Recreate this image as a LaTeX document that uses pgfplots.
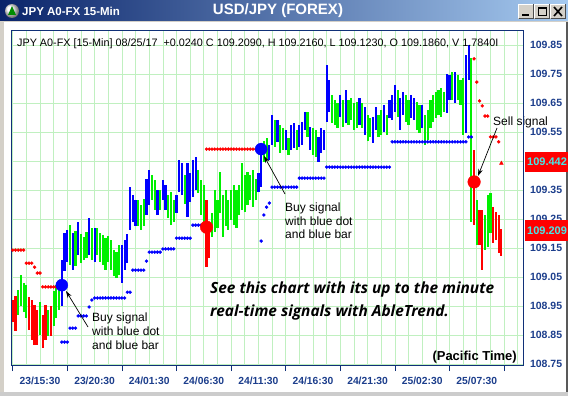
\documentclass[border=0pt]{standalone}
\usepackage{fontspec}
\setmainfont{Liberation Sans}
\newfontfamily\opensans{Open Sans}
\usepackage{pgfplots}
\pgfplotsset{compat=1.18}
\usepackage{pgfplotstable}
\usetikzlibrary{arrows.meta}
\definecolor{barred}{RGB}{255,0,0}
\definecolor{bargreen}{RGB}{0,240,0}
\definecolor{barblue}{RGB}{0,0,255}
\definecolor{gridcol}{RGB}{192,240,192}
\definecolor{framecol}{RGB}{16,48,120}
\definecolor{lblblue}{RGB}{28,62,140}
\definecolor{winGray}{RGB}{212,208,200}
\definecolor{tbDark}{RGB}{10,36,106}
\definecolor{tbLight}{RGB}{166,202,240}
\definecolor{boxcyan}{RGB}{70,232,232}

\pgfplotstableread{
x lo hi
-10 108.895 108.971
-9 108.867 108.988
-4 108.867 108.981
-3 108.833 108.971
-2 108.816 108.953
-1 108.816 108.936
1 108.805 108.919
2 108.833 108.953
4 108.850 108.953
61 109.084 109.316
62 109.116 109.219
159 109.229 109.488
161 109.160 109.281
162 109.074 109.281
166 109.167 109.291
167 109.178 109.274
168 109.133 109.264
169 109.123 109.216
}\redbars

\pgfplotstableread{
x lo hi
-8 108.919 109.005
-7 108.953 109.057
-6 108.929 109.029
-5 108.909 109.022
0 108.850 108.964
3 108.847 108.936
5 108.884 109.005
6 108.909 109.022
7 108.936 109.040
11 109.091 109.229
13 109.091 109.212
15 109.102 109.202
16 109.109 109.188
17 109.116 109.205
19 109.109 109.219
21 109.126 109.219
22 109.102 109.205
23 109.091 109.195
24 109.074 109.184
25 109.102 109.191
26 109.074 109.178
27 109.053 109.143
28 109.047 109.136
29 109.057 109.160
36 109.229 109.316
37 109.212 109.298
38 109.229 109.322
41 109.316 109.402
42 109.281 109.384
44 109.281 109.350
47 109.253 109.333
48 109.229 109.343
49 109.240 109.316
53 109.305 109.402
58 109.340 109.419
59 109.264 109.384
60 109.240 109.367
63 109.188 109.271
64 109.205 109.350
65 109.219 109.316
66 109.271 109.412
67 109.188 109.333
68 109.229 109.350
69 109.212 109.316
70 109.247 109.350
71 109.229 109.367
72 109.219 109.350
73 109.264 109.367
74 109.281 109.443
75 109.274 109.402
76 109.298 109.412
77 109.316 109.402
78 109.291 109.419
79 109.316 109.391
82 109.447 109.522
83 109.453 109.529
86 109.498 109.591
88 109.478 109.574
89 109.488 109.564
91 109.471 109.529
94 109.488 109.557
98 109.533 109.619
100 109.471 109.564
101 109.464 109.557
107 109.581 109.678
108 109.574 109.660
109 109.564 109.650
111 109.567 109.660
113 109.574 109.660
114 109.591 109.667
115 109.557 109.650
116 109.564 109.653
118 109.564 109.650
120 109.522 109.609
121 109.533 109.598
124 109.533 109.609
125 109.540 109.626
127 109.540 109.609
131 109.602 109.695
134 109.584 109.678
135 109.574 109.660
138 109.557 109.653
139 109.547 109.643
141 109.505 109.609
142 109.522 109.626
143 109.564 109.660
144 109.584 109.678
145 109.598 109.688
146 109.609 109.695
147 109.602 109.702
148 109.619 109.688
151 109.660 109.757
153 109.660 109.747
154 109.643 109.729
155 109.540 109.736
158 109.240 109.805
160 109.160 109.316
163 109.143 109.264
164 109.153 109.333
165 109.205 109.340
}\greenbars

\pgfplotstableread{
x lo hi
8 108.953 109.109
9 109.074 109.205
10 109.102 109.212
12 109.074 109.202
14 109.126 109.240
18 109.126 109.253
20 109.102 109.219
30 109.029 109.160
31 109.074 109.178
32 109.102 109.202
33 109.212 109.360
34 109.240 109.333
35 109.229 109.316
39 109.264 109.391
40 109.298 109.419
43 109.264 109.350
45 109.316 109.384
46 109.281 109.367
50 109.271 109.333
51 109.343 109.453
52 109.333 109.443
54 109.257 109.443
55 109.309 109.409
56 109.326 109.453
57 109.350 109.464
80 109.343 109.409
81 109.360 109.512
84 109.453 109.505
85 109.505 109.609
87 109.516 109.591
90 109.488 109.557
92 109.488 109.574
93 109.495 109.581
95 109.498 109.574
96 109.505 109.584
97 109.557 109.619
99 109.488 109.567
102 109.447 109.533
103 109.478 109.564
104 109.488 109.557
105 109.584 109.781
106 109.619 109.729
110 109.602 109.678
112 109.581 109.695
117 109.574 109.667
119 109.540 109.636
122 109.512 109.602
123 109.557 109.636
126 109.550 109.643
128 109.598 109.660
129 109.591 109.678
130 109.619 109.712
132 109.557 109.667
133 109.609 109.688
136 109.598 109.678
137 109.591 109.667
140 109.564 109.643
149 109.616 109.753
150 109.660 109.747
152 109.650 109.757
156 109.547 109.816
157 109.729 109.850
}\bluebars

\pgfplotstableread{
x y
-10 109.143
-9 109.143
-8 109.143
-7 109.143
-6 109.143
-5 109.098
-4 109.098
-3 109.098
-2 109.084
-1 109.064
0 109.064
1 109.016
2 109.016
3 109.016
4 109.016
5 109.016
6 109.016
7 109.016
61 109.491
62 109.491
63 109.491
64 109.491
65 109.491
66 109.491
67 109.491
68 109.491
69 109.491
70 109.491
71 109.491
72 109.491
73 109.491
74 109.491
75 109.491
76 109.491
77 109.491
78 109.491
79 109.491
80 109.491
159 109.802
160 109.722
161 109.657
162 109.640
163 109.605
164 109.605
165 109.533
166 109.533
167 109.533
168 109.516
}\reddots

\pgfplotstableread{
x y
8 108.826
9 108.826
10 108.826
11 108.874
12 108.874
13 108.874
14 108.916
15 108.916
16 108.916
17 108.916
18 108.947
19 108.971
20 108.978
21 108.978
22 108.978
23 108.978
24 108.978
25 108.978
26 108.978
27 108.978
28 108.978
29 108.978
30 108.978
31 108.978
32 108.998
33 108.998
34 109.074
35 109.074
36 109.074
37 109.074
38 109.074
39 109.105
40 109.136
41 109.136
42 109.136
43 109.136
44 109.136
45 109.147
46 109.147
47 109.147
48 109.147
49 109.147
50 109.184
51 109.184
52 109.184
53 109.184
54 109.184
55 109.184
56 109.229
57 109.229
58 109.229
59 109.229
81 109.174
82 109.264
83 109.291
84 109.305
85 109.360
86 109.360
87 109.360
88 109.360
89 109.360
90 109.360
91 109.360
92 109.360
93 109.360
94 109.360
95 109.391
96 109.391
97 109.391
98 109.391
99 109.391
100 109.391
101 109.391
102 109.391
103 109.391
104 109.391
105 109.429
106 109.429
107 109.429
108 109.429
109 109.429
110 109.429
111 109.429
112 109.429
113 109.429
114 109.429
115 109.429
116 109.429
117 109.429
118 109.429
119 109.429
120 109.429
121 109.429
122 109.429
123 109.429
124 109.429
125 109.429
126 109.429
127 109.429
128 109.429
129 109.516
130 109.516
131 109.516
132 109.516
133 109.516
134 109.516
135 109.516
136 109.516
137 109.516
138 109.516
139 109.516
140 109.516
141 109.516
142 109.516
143 109.516
144 109.516
145 109.516
146 109.516
147 109.516
148 109.516
149 109.516
150 109.516
151 109.516
152 109.516
153 109.516
154 109.516
155 109.516
156 109.516
157 109.533
158 109.533
}\bluedots

\begin{document}
\begin{tikzpicture}
\begin{scope}[x=1pt,y=-1pt]
  \fill[winGray] (0,0) rectangle (568,396);
  \fill[white] (4,22) rectangle (566,392);
  \fill[black!65] (566,22) rectangle (568,396);
  \fill[black!20] (0,392) rectangle (568,396);
  \shade[left color=tbDark, right color=tbLight] (0,0) rectangle (568,21);
  % icon
  \shade[ball color=white] (12,11) circle (7);
  \fill[green!55!black] (8,15) -- (16,15) -- (12,6) -- cycle;
  \node[anchor=west, text=white, font=\bfseries\fontsize{11.5}{13}\selectfont, inner sep=0pt] at (22,11) {JPY A0-FX 15-Min};
  \node[text=white, font=\bfseries\fontsize{15}{17}\selectfont, inner sep=0pt] at (278,11) {USD/JPY (FOREX)};
  % window buttons
  \foreach \bx in {518,534,550} {
    \fill[winGray] (\bx,4) rectangle (\bx+16,19);
    \draw[white, line width=1pt] (\bx+0.5,18.5) -- (\bx+0.5,4.5) -- (\bx+15.5,4.5);
    \draw[black!70, line width=1pt] (\bx+0.5,18.5) -- (\bx+15.5,18.5) -- (\bx+15.5,4.5);
  }
  \fill[black] (522,14) rectangle (529,16);
  \draw[black, line width=1pt] (538.5,7.5) rectangle (546.5,15.5);
  \fill[black] (538,7) rectangle (547,9);
  \draw[black, line width=1.6pt] (554,7) -- (562,16) (562,7) -- (554,16);
\end{scope}

\begin{axis}[
  at={(12pt,-365pt)}, anchor=south west,
  scale only axis, width=511pt, height=334pt,
  xmin=-10.26, xmax=176.92, ymin=108.747, ymax=109.898,
  axis line style={draw=framecol, line width=1pt},
  xtick={0,20,...,160},
  xticklabels={23/15:30,23/20:30,24/01:30,24/06:30,24/11:30,24/16:30,24/21:30,25/02:30,25/07:30},
  minor xtick={-10,-5,...,175},
  ytick={108.75,108.85,108.95,109.05,109.15,109.25,109.35,109.45,109.55,109.65,109.75,109.85},
  yticklabels={108.75,108.85,108.95,109.05,109.15,109.25,109.35,{},109.55,109.65,109.75,109.85},
  xtick pos=bottom, ytick pos=right, yticklabel pos=right,
  major tick length=0pt, minor tick length=0pt,
  grid=both,
  major grid style={draw=gridcol, line width=0.7pt},
  minor grid style={draw=gridcol, line width=0.7pt},
  extra x ticks={-10,10,...,170}, extra x tick labels={},
  extra x tick style={grid=none, major tick length=6pt, tick align=outside, tick style={draw=framecol, line width=0.8pt}},
  xticklabel style={font=\bfseries\fontsize{10.3}{12}\selectfont, text=lblblue, yshift=-9pt},
  yticklabel style={font=\bfseries\fontsize{10.5}{12}\selectfont, text=lblblue, anchor=west, xshift=3.5pt},
]
\addplot[draw=none, mark=none, forget plot, error bars/.cd, y dir=both, y explicit, error mark=none,
  error bar style={line width=2.2pt, draw=bargreen}]
  table[x=x, y expr={(\thisrow{lo}+\thisrow{hi})/2}, y error expr={(\thisrow{hi}-\thisrow{lo})/2}] {\greenbars};
\addplot[draw=none, mark=none, forget plot, error bars/.cd, y dir=both, y explicit, error mark=none,
  error bar style={line width=2.2pt, draw=barblue}]
  table[x=x, y expr={(\thisrow{lo}+\thisrow{hi})/2}, y error expr={(\thisrow{hi}-\thisrow{lo})/2}] {\bluebars};
\addplot[draw=none, mark=none, forget plot, error bars/.cd, y dir=both, y explicit, error mark=none,
  error bar style={line width=2.2pt, draw=barred}]
  table[x=x, y expr={(\thisrow{lo}+\thisrow{hi})/2}, y error expr={(\thisrow{hi}-\thisrow{lo})/2}] {\redbars};
\addplot[only marks, mark=*, mark size=1.5pt, color=barred, mark options={draw=none, fill=barred}] table[x=x,y=y] {\reddots};
\addplot[only marks, mark=*, mark size=1.5pt, color=barblue, mark options={draw=none, fill=barblue}] table[x=x,y=y] {\bluedots};
\addplot[only marks, mark=triangle*, mark size=2.2pt, color=barred, mark options={draw=none, fill=barred}] coordinates {(169,109.442)};
\addplot[only marks, mark=*, mark size=6pt, color=barblue, mark options={draw=none, fill=barblue}] coordinates {(8,109.022) (81,109.491)};
\addplot[only marks, mark=*, mark size=6.3pt, color=barred, mark options={draw=none, fill=barred}] coordinates {(61,109.222) (159,109.378)};
\end{axis}

\begin{scope}[x=1pt,y=-1pt]
  % price boxes
  \fill[barred] (525,152) rectangle (568,172);
  \node[anchor=west, inner sep=0pt, text=boxcyan, font=\bfseries\fontsize{11}{12}\selectfont] at (527,162) {109.442};
  \fill[barred] (525,220) rectangle (568,241);
  \node[anchor=west, inner sep=0pt, text=boxcyan, font=\bfseries\fontsize{11}{12}\selectfont] at (527,230.5) {109.209};
  % header
  \node[anchor=base west, inner sep=0pt, font=\fontsize{10.8}{12}\selectfont] at (17,47)
    {JPY A0-FX [15-Min] 08/25/17\ \ +0.0240 C 109.2090, H 109.2160, L 109.1230, O 109.1860, V 1.7840I};
  % annotations
  \begin{scope}[font=\fontsize{12}{14}\selectfont, inner sep=0pt]
    \node[anchor=base west] at (92,321.3) {Buy signal};
    \node[anchor=base west] at (92,335.5) {with blue dot};
    \node[anchor=base west] at (92,349.5) {and blue bar};
    \node[anchor=base west] at (285,211.3) {Buy signal};
    \node[anchor=base west] at (285,225.3) {with blue dot};
    \node[anchor=base west] at (285,238.5) {and blue bar};
    \node[anchor=base west] at (493,125.3) {Sell signal};
  \end{scope}
  \draw[line width=0.7pt, -{Stealth[length=7pt,width=4.5pt]}] (88,327) -- (66,291);
  \draw[line width=0.7pt, -{Stealth[length=7pt,width=4.5pt]}] (285,194) -- (264,156);
  \draw[line width=0.7pt, -{Stealth[length=7pt,width=4.5pt]}] (497,128) -- (478,176);
  \draw[framecol, line width=1pt] (523,31) -- (523,365);
  % promo text
  \node[anchor=base west, inner sep=0pt, font=\opensans\bfseries\itshape\fontsize{15.4}{18}\selectfont] at (210,293.4) {See this chart with its up to the minute};
  \node[anchor=base west, inner sep=0pt, font=\opensans\bfseries\itshape\fontsize{15.4}{18}\selectfont] at (210,316.4) {real-time signals with AbleTrend.};
  \node[anchor=base east, inner sep=0pt, font=\bfseries\fontsize{13}{15}\selectfont] at (517,360.5) {(Pacific Time)};
\end{scope}
\pgfresetboundingbox
\path[use as bounding box] (0pt,0pt) rectangle (568pt,-396pt);
\end{tikzpicture}
\end{document}
